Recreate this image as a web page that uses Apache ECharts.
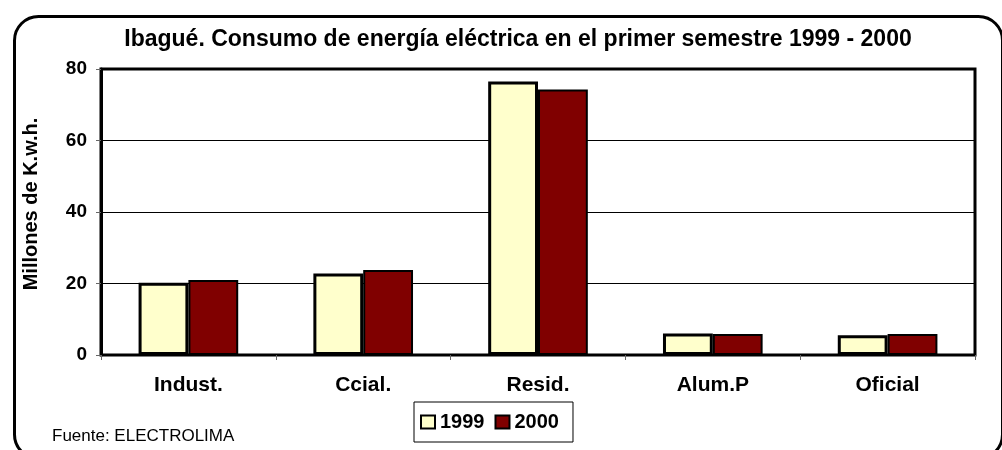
<!DOCTYPE html>
<html><head><meta charset="utf-8">
<script src="https://cdn.jsdelivr.net/npm/echarts@6/dist/echarts.min.js"></script>
<style>html,body{margin:0;padding:0;background:#fff}#c{width:1002px;height:450px}</style>
</head><body><div id="c"></div>
<script>
const categories = ['Indust.', 'Ccial.', 'Resid.', 'Alum.P', 'Oficial'];
const values1999 = [20.2, 22.8, 76.5, 6.0, 5.5];
const values2000 = [21.0, 23.8, 74.3, 5.9, 5.9];
const yTicks = [0, 20, 40, 60, 80];
const FONT = '"Liberation Sans", Arial, sans-serif';

const chart = echarts.init(document.getElementById('c'), null, {renderer: 'canvas'});
chart.setOption({
  animation: false,
  backgroundColor: '#fff',
  title: {
    text: 'Ibagué. Consumo de energía eléctrica en el primer semestre 1999 - 2000',
    left: 513, top: 23, textAlign: 'center',
    textStyle: {fontFamily: FONT, fontWeight: 'bold', fontSize: 23, color: '#000'}
  },
  legend: {
    left: 414, top: 402,
    padding: [10, 14, 10, 6],
    borderColor: '#000', borderWidth: 1,
    icon: 'rect', itemWidth: 14, itemHeight: 13, itemGap: 10,
    textStyle: {fontFamily: FONT, fontWeight: 'bold', fontSize: 20, color: '#000'},
    data: ['1999', '2000']
  },
  grid: {left: 101, right: 27, top: 69, bottom: 95, show: true, borderColor: '#000', borderWidth: 3, containLabel: false},
  xAxis: {
    type: 'category', data: categories,
    axisLine: {lineStyle: {color: '#000', width: 2}},
    axisTick: {show: true, length: 5, lineStyle: {color: '#666', width: 1}},
    axisLabel: {margin: 20, fontFamily: FONT, fontWeight: 'bold', fontSize: 21, color: '#000'}
  },
  yAxis: {
    type: 'value', min: yTicks[0], max: yTicks[yTicks.length-1], interval: 20,
    axisLine: {show: true, lineStyle: {color: '#000', width: 3}},
    axisTick: {show: true, length: 5, lineStyle: {color: '#666', width: 1}},
    axisLabel: {margin: 14, fontFamily: FONT, fontWeight: 'bold', fontSize: 19, color: '#000'},
    splitLine: {show: true, lineStyle: {color: '#000', width: 1}}
  },
  series: [
    {name: '1999', type: 'bar', data: values1999, barGap: '0%', barCategoryGap: '43%',
     itemStyle: {color: '#FFFFCC', borderColor: '#000', borderWidth: 3}},
    {name: '2000', type: 'bar', data: values2000,
     itemStyle: {color: '#800000', borderColor: '#000', borderWidth: 2}}
  ],
  graphic: [
    {type: 'rect', left: 12, top: 14, shape: {x: 0, y: 0, width: 988, height: 442, r: 24},
     style: {fill: 'none', stroke: '#000', lineWidth: 3}, z: 100},
    {type: 'text', x: 31, y: 204, rotation: Math.PI / 2,
     style: {text: 'Millones de K.w.h.', font: 'bold 20px ' + FONT, fill: '#000', align: 'center', verticalAlign: 'middle'}},
    {type: 'text', left: 52, top: 428,
     style: {text: 'Fuente: ELECTROLIMA', font: '17px ' + FONT, fill: '#000'}}
  ]
});
</script></body></html>
